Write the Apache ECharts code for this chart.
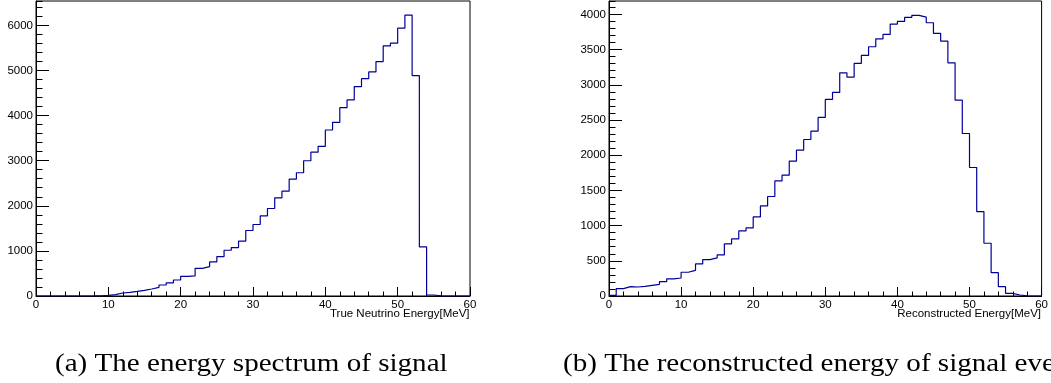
<!DOCTYPE html>
<html>
<head>
<meta charset="utf-8">
<script src="https://cdn.jsdelivr.net/npm/echarts@6/dist/echarts.min.js"></script>
<style>
html,body{margin:0;padding:0;background:#fff;}
#chart{width:1051px;height:383px;}
</style>
</head>
<body>
<div id="chart"></div>
<script>
// Bin edges are 1 MeV wide, 0..60 MeV
const binEdgesStart = 0;

// (a) True neutrino energy spectrum: counts per 1 MeV bin (bins 0..59)
const trueCounts = [
  0, 0, 0, 0, 0, 0, 0, 2, 6, 15,
  30, 67, 81, 103, 126, 155, 192, 244, 289, 355,
  437, 444, 614, 651, 755, 873, 1014, 1073, 1215, 1452,
  1585, 1777, 1940, 2177, 2325, 2592, 2732, 2998, 3188, 3318,
  3680, 3850, 4176, 4346, 4642, 4819, 4968, 5197, 5545, 5605,
  5938, 6227, 4886, 1088, 22, 2, 0, 0, 0, 0
];

// (b) Reconstructed energy: counts per 1 MeV bin (bins 0..59)
const recoCounts = [
  10, 105, 133, 128, 138, 152, 166, 204, 242, 256,
  337, 365, 455, 517, 541, 583, 739, 810, 924, 967,
  1123, 1279, 1413, 1635, 1716, 1915, 2071, 2223, 2341, 2536,
  2792, 2891, 3170, 3109, 3303, 3417, 3540, 3653, 3715, 3862,
  3900, 3957, 3986, 3962, 3881, 3730, 3620, 3312, 2782, 2308,
  1825, 1199, 749, 332, 133, 38, 14, 3, 0, 0
];

const xTitleA = 'True Neutrino Energy[MeV]';
const xTitleB = 'Reconstructed Energy[MeV]';
const captionA = '(a) The energy spectrum of signal';
const captionB = '(b) The reconstructed energy of signal events';

const yMaxA = 6540, yMajorA = 1000, yMinorA = 200;
const yMaxB = 4190, yMajorB = 500, yMinorB = 100;

function stepData(counts) {
  const d = counts.map((v, k) => [binEdgesStart + k, v]);
  d.push([binEdgesStart + counts.length, counts[counts.length - 1]]);
  return d;
}

const sans = 'Liberation Sans, Arial, Helvetica, sans-serif';
const serifFont = '25px Liberation Serif, Times New Roman, serif';

function xAxisCfg(gridIndex) {
  return {
    type: 'value', gridIndex: gridIndex, min: 0, max: 60, interval: 10,
    position: 'bottom',
    axisLine: { show: true, onZero: false, lineStyle: { color: '#000', width: 1 } },
    axisTick: { show: true, inside: true, length: 9, lineStyle: { color: '#000', width: 1 } },
    minorTick: { show: true, splitNumber: 5, length: 4.5, lineStyle: { color: '#000', width: 1 } },
    axisLabel: { show: true, color: '#000', fontSize: 11.5, fontFamily: sans, margin: 3,
      formatter: function (v) { return String(v); } },
    splitLine: { show: false }, minorSplitLine: { show: false }
  };
}
function yMajorCfg(gridIndex, max, interval) {
  return {
    type: 'value', gridIndex: gridIndex, min: 0, max: max, interval: interval,
    position: 'left',
    axisLine: { show: true, onZero: false, lineStyle: { color: '#000', width: 1 } },
    axisTick: { show: true, inside: true, length: 13, lineStyle: { color: '#000', width: 1 } },
    axisLabel: { show: true, color: '#000', fontSize: 11.5, fontFamily: sans, margin: 3, showMaxLabel: false,
      formatter: function (v) { return String(v); } },
    splitLine: { show: false }
  };
}
function yMinorCfg(gridIndex, max, interval) {
  return {
    type: 'value', gridIndex: gridIndex, min: 0, max: max, interval: interval,
    position: 'left',
    axisLine: { show: false },
    axisTick: { show: true, inside: true, length: 6.5, lineStyle: { color: '#000', width: 1 } },
    axisLabel: { show: false },
    splitLine: { show: false }
  };
}

const chart = echarts.init(document.getElementById('chart'), null, { renderer: 'canvas' });
chart.setOption({
  animation: false,
  backgroundColor: '#fff',
  grid: [
    { left: 36, top: 1, width: 434, height: 295, show: true, borderColor: '#000', borderWidth: 1, backgroundColor: 'transparent', containLabel: false },
    { left: 609, top: 1, width: 433, height: 295, show: true, borderColor: '#000', borderWidth: 1, backgroundColor: 'transparent', containLabel: false }
  ],
  xAxis: [xAxisCfg(0), xAxisCfg(1)],
  yAxis: [
    yMajorCfg(0, yMaxA, yMajorA), yMinorCfg(0, yMaxA, yMinorA),
    yMajorCfg(1, yMaxB, yMajorB), yMinorCfg(1, yMaxB, yMinorB)
  ],
  series: [
    { type: 'line', xAxisIndex: 0, yAxisIndex: 0, step: 'end', showSymbol: false, symbol: 'none',
      lineStyle: { color: '#000099', width: 1.2 }, data: stepData(trueCounts) },
    { type: 'line', xAxisIndex: 1, yAxisIndex: 2, step: 'end', showSymbol: false, symbol: 'none',
      lineStyle: { color: '#000099', width: 1.2 }, data: stepData(recoCounts) }
  ],
  graphic: [
    { type: 'text', x: 469.5, y: 314, style: { text: xTitleA, fill: '#000', font: '11.5px ' + sans, textAlign: 'right', textVerticalAlign: 'middle' } },
    { type: 'text', x: 1041, y: 314, style: { text: xTitleB, fill: '#000', font: '11.5px ' + sans, textAlign: 'right', textVerticalAlign: 'middle' } },
    { type: 'text', x: 55, y: 364, scaleX: 1.163, style: { text: captionA, fill: '#000', font: serifFont, textAlign: 'left', textVerticalAlign: 'middle' } },
    { type: 'text', x: 563, y: 364, scaleX: 1.163, style: { text: captionB, fill: '#000', font: serifFont, textAlign: 'left', textVerticalAlign: 'middle' } }
  ]
});
</script>
</body>
</html>
